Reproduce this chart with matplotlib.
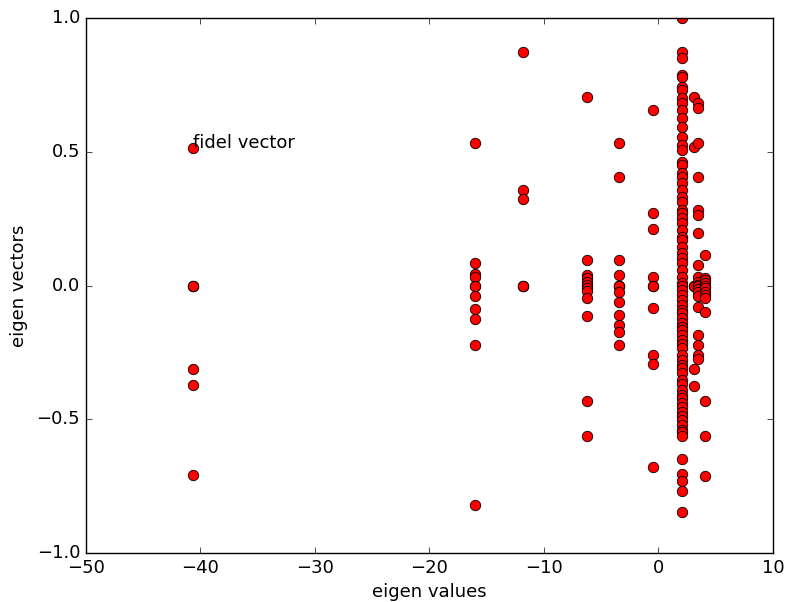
import matplotlib
matplotlib.use('Agg')
import matplotlib.pyplot as plt

plt.style.use('classic')
plt.rcParams['font.size'] = 13

# eigen values and the components of the matching eigen vectors
eig_values = [-40.6, -16.0, -11.8, -6.24, -3.45, -0.48, 2.05, 3.1, 3.45, 4.06]

vec_m406 = [0.5145, 0.0, 0.0, 0.0, -0.3118, -0.3718, -0.7071]
vec_m160 = [0.533, 0.083, 0.043, 0.033, 0.0, 0.0, -0.039, -0.088, -0.127,
            -0.224, -0.822]
vec_m118 = [0.873, 0.357, 0.323, 0.0, 0.0, 0.0]
vec_m624 = [0.706, 0.095, 0.039, 0.027, 0.014, 0.002, -0.01, -0.02, -0.048,
            -0.114, -0.432, -0.563]
vec_m345 = [0.534, 0.406, 0.095, 0.039, 0.0, 0.0, 0.0, -0.024, -0.06, -0.11,
            -0.148, -0.173, -0.222]
vec_m048 = [0.656, 0.272, 0.211, 0.033, 0.0, 0.0, -0.085, -0.26, -0.293,
            -0.68]
vec_p205 = [1.0, 0.874, 0.849, 0.787, 0.78, 0.743, 0.731, 0.7, 0.682, 0.656,
            0.625, 0.594, 0.556, 0.525, 0.506, 0.463, 0.45, 0.419, 0.407,
            0.382, 0.357, 0.332, 0.313, 0.282, 0.27, 0.251, 0.232, 0.207,
            0.182, 0.17, 0.145, 0.12, 0.102, 0.083, 0.058, 0.033, 0.008, 0.0,
            -0.018, -0.036, -0.055, -0.073, -0.09, -0.104, -0.123, -0.14,
            -0.154, -0.166, -0.185, -0.204, -0.22, -0.235, -0.26, -0.28,
            -0.297, -0.31, -0.328, -0.353, -0.37, -0.391, -0.41, -0.422,
            -0.44, -0.455, -0.472, -0.488, -0.503, -0.52, -0.54, -0.546,
            -0.563, -0.65, -0.706, -0.731, -0.768, -0.846]
vec_p310 = [0.706, 0.519, 0.0, 0.0, -0.313, -0.376]
vec_p345 = [0.681, 0.662, 0.534, 0.407, 0.282, 0.264, 0.195, 0.077, 0.033,
            0.014, 0.002, 0.0, -0.012, -0.025, -0.039, -0.079, -0.185, -0.222,
            -0.26, -0.276]
vec_p406 = [0.114, 0.028, 0.021, 0.008, 0.0, -0.008, -0.023, -0.035, -0.048,
            -0.098, -0.432, -0.563, -0.711]

eig_vectors = [vec_m406, vec_m160, vec_m118, vec_m624, vec_m345, vec_m048,
               vec_p205, vec_p310, vec_p345, vec_p406]

fig = plt.figure(figsize=(7.87, 6.02), dpi=100)
ax = fig.add_axes([0.109, 0.0814, 0.873, 0.8886])

for val, vec in zip(eig_values, eig_vectors):
    ax.plot([val] * len(vec), vec, 'ro', markersize=7.5, markeredgewidth=0.6)

ax.text(eig_values[0], vec_m406[0], 'fidel vector')

ax.set_xlim(-50, 10)
ax.set_ylim(-1, 1)
ax.set_xlabel('eigen values')
ax.set_ylabel('eigen vectors', labelpad=6)

fig.savefig('out.png', dpi=100)
